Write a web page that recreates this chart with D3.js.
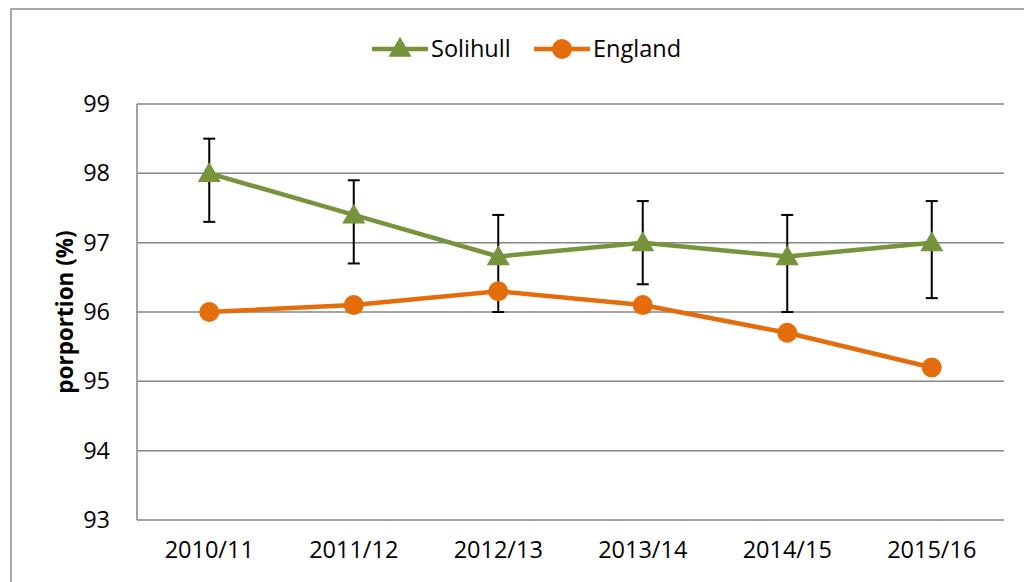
<!DOCTYPE html>
<html>
<head>
<meta charset="utf-8">
<script src="https://cdn.jsdelivr.net/npm/d3@7"></script>
<style>
  body { margin: 0; background: #fff; }
  text { font-family: "Open Sans", sans-serif; }
</style>
</head>
<body>
<div id="chart"></div>
<script>
var years = ["2010/11", "2011/12", "2012/13", "2013/14", "2014/15", "2015/16"];
var solihull = [98.0, 97.4, 96.8, 97.0, 96.8, 97.0];
var solihullHigh = [98.5, 97.9, 97.4, 97.6, 97.4, 97.6];
var solihullLow = [97.3, 96.7, 96.0, 96.4, 96.0, 96.2];
var england = [96.0, 96.1, 96.3, 96.1, 95.7, 95.2];
var yTicks = [93, 94, 95, 96, 97, 98, 99];

var green = "#77933c", orange = "#e46c0a";

var svg = d3.select("#chart").append("svg")
    .attr("width", 1024).attr("height", 582);

// outer frame
svg.append("rect")
   .attr("x", 11).attr("y", 9)
   .attr("width", 1030).attr("height", 600)
   .attr("fill", "none").attr("stroke", "#8c8c8c").attr("stroke-width", 1.5);

var x = d3.scaleBand().domain(years).range([137, 1004]);
var y = d3.scaleLinear().domain([93, 99]).range([520, 104]);

// gridlines
svg.selectAll("line.grid")
   .data(yTicks)
   .enter()
   .append("line")
   .attr("class", "grid")
   .attr("x1", 137).attr("x2", 1004)
   .attr("y1", function(d) { return y(d); })
   .attr("y2", function(d) { return y(d); })
   .attr("stroke", "#868686").attr("stroke-width", 1.5);

// left axis line
svg.append("line")
   .attr("x1", 137).attr("x2", 137).attr("y1", 104).attr("y2", 520)
   .attr("stroke", "#868686").attr("stroke-width", 1.5);

// y axis labels
var yAxis = d3.axisLeft(y).tickValues(yTicks).tickFormat(d3.format("d")).tickSize(0).tickPadding(27);
var gy = svg.append("g").attr("transform", "translate(137,0)").call(yAxis);
gy.select(".domain").remove();
gy.selectAll("text").style("font-size", "23.5px").attr("fill", "#000").attr("font-family", "Open Sans");

// x axis labels
var xAxis = d3.axisBottom(x).tickSize(0).tickPadding(21);
var gx = svg.append("g").attr("transform", "translate(0,520)").call(xAxis);
gx.select(".domain").remove();
gx.selectAll("text").style("font-size", "23.5px").attr("fill", "#000").attr("font-family", "Open Sans");

// y axis title
svg.append("text")
   .attr("transform", "translate(73,312) rotate(-90)")
   .attr("text-anchor", "middle")
   .style("font-size", "22.5px").style("font-weight", "bold")
   .text("porportion (%)");

function cx(i) { return x(years[i]) + x.bandwidth() / 2; }

var line = d3.line()
    .x(function(d, i) { return cx(i); })
    .y(function(d) { return y(d); });

// error bars
var err = svg.append("g");
years.forEach(function(yr, i) {
  err.append("line")
     .attr("x1", cx(i)).attr("x2", cx(i))
     .attr("y1", y(solihullHigh[i])).attr("y2", y(solihullLow[i]))
     .attr("stroke", "#000").attr("stroke-width", 2);
  [solihullHigh[i], solihullLow[i]].forEach(function(v) {
    err.append("line")
       .attr("x1", cx(i) - 6).attr("x2", cx(i) + 6)
       .attr("y1", y(v)).attr("y2", y(v))
       .attr("stroke", "#000").attr("stroke-width", 2);
  });
});

// Solihull
svg.append("path").datum(solihull)
   .attr("d", line).attr("fill", "none")
   .attr("stroke", green).attr("stroke-width", 4.5).attr("stroke-linejoin", "round");
var tri = d3.symbol().type(d3.symbolTriangle).size(230);
svg.selectAll("path.tri")
   .data(solihull)
   .enter()
   .append("path")
   .attr("class", "tri")
   .attr("d", tri)
   .attr("transform", function(d, i) { return "translate(" + cx(i) + "," + (y(d) + 2) + ")"; })
   .attr("fill", green);

// England
svg.append("path").datum(england)
   .attr("d", line).attr("fill", "none")
   .attr("stroke", orange).attr("stroke-width", 4.5).attr("stroke-linejoin", "round");
svg.selectAll("circle.eng")
   .data(england)
   .enter()
   .append("circle")
   .attr("class", "eng")
   .attr("cx", function(d, i) { return cx(i); })
   .attr("cy", function(d) { return y(d); })
   .attr("r", 10)
   .attr("fill", orange);

// legend
var legend = [
  {name: "Solihull", color: green, x: 372, mark: "tri"},
  {name: "England", color: orange, x: 534, mark: "circle"}
];
legend.forEach(function(l) {
  svg.append("line")
     .attr("x1", l.x).attr("x2", l.x + 56).attr("y1", 49).attr("y2", 49)
     .attr("stroke", l.color).attr("stroke-width", 4.5);
  if (l.mark == "tri") {
    svg.append("path").attr("d", tri)
       .attr("transform", "translate(" + (l.x + 28) + ",50)")
       .attr("fill", l.color);
  } else {
    svg.append("circle").attr("cx", l.x + 28).attr("cy", 49).attr("r", 10).attr("fill", l.color);
  }
  svg.append("text")
     .attr("x", l.x + 59).attr("y", 49).attr("dy", "0.35em")
     .style("font-size", "23.5px")
     .text(l.name);
});
</script>
</body>
</html>
